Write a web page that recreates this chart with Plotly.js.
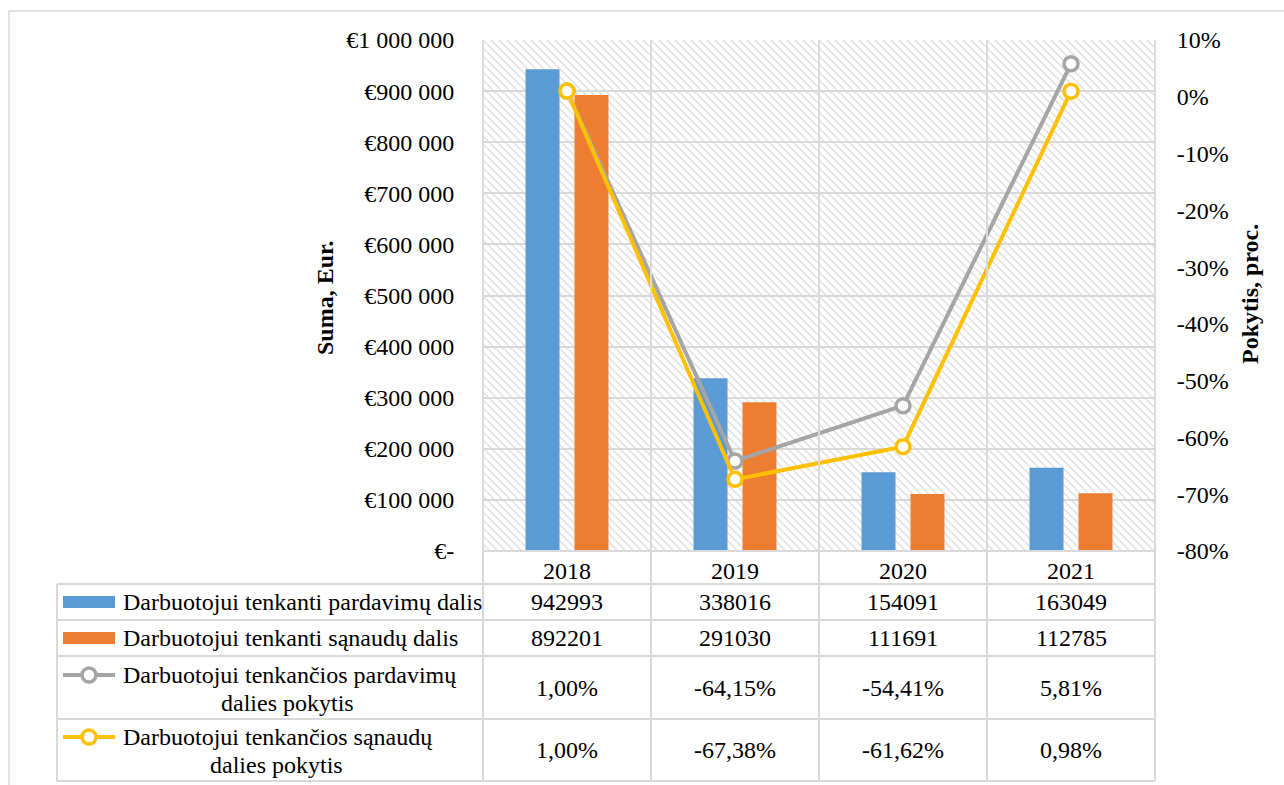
<!DOCTYPE html>
<html>
<head>
<meta charset="utf-8">
<script src="https://cdn.plot.ly/plotly-3.0.1.min.js"></script>
<style>
  html, body { margin: 0; padding: 0; background: #fff; }
  #chart { width: 1284px; height: 785px; }
</style>
</head>
<body>
<div id="chart"></div>
<script>
// Years shown on the category axis and as table columns
const years = ['2018', '2019', '2020', '2021'];

// Amounts per employee, EUR (left axis)
const salesShare = [942993, 338016, 154091, 163049];
const costShare = [892201, 291030, 111691, 112785];

// Year-on-year change, percent (right axis)
const salesChange = [1.00, -64.15, -54.41, 5.81];
const costChange = [1.00, -67.38, -61.62, 0.98];

// Series names
const seriesNames = [
  'Darbuotojui tenkanti pardavimų dalis',
  'Darbuotojui tenkanti sąnaudų dalis',
  'Darbuotojui tenkančios pardavimų dalies pokytis',
  'Darbuotojui tenkančios sąnaudų dalies pokytis'
];

// Axis ticks
const eurTickVals = [0, 100000, 200000, 300000, 400000, 500000, 600000, 700000, 800000, 900000, 1000000];
const eurTickText = ['€-', '€100 000', '€200 000', '€300 000', '€400 000', '€500 000', '€600 000', '€700 000', '€800 000', '€900 000', '€1 000 000'];
const pctTickVals = [-80, -70, -60, -50, -40, -30, -20, -10, 0, 10];
const pctTickText = ['-80%', '-70%', '-60%', '-50%', '-40%', '-30%', '-20%', '-10%', '0%', '10%'];

const BLUE = '#5B9BD5', ORANGE = '#ED7D31', GRAY = '#A5A5A5', GOLD = '#FFC000';
const GRID = '#D9D9D9';
const FONT = '"Liberation Serif", "Times New Roman", serif';

// Page geometry
const W = 1284, H = 785;
const M = { l: 483, r: 129, t: 40, b: 234 };
const PW = W - M.l - M.r, PH = H - M.t - M.b;
const px = x => (x - M.l) / PW;          // page pixel -> paper x
const py = y => (M.t + PH - y) / PH;     // page pixel -> paper y
const catX = i => (i + 0.5) / years.length; // category centre in paper x
const catEdge = i => i / years.length;     // category boundary in paper x

const fmtInt = v => String(v);
const fmtPct = v => v.toFixed(2).replace('.', ',') + '%';

// Hatched plot-area background
const hatchSvg =
  "<svg xmlns='http://www.w3.org/2000/svg' width='" + PW + "' height='" + PH + "'>" +
  "<defs><pattern id='h' width='8' height='8' patternUnits='userSpaceOnUse'>" +
  "<path d='M-2,-2 L10,10 M-2,6 L2,10 M6,-2 L10,2' stroke='#E1E1E1' stroke-width='1.5'/>" +
  "</pattern></defs>" +
  "<rect width='100%' height='100%' fill='#FFFFFF'/>" +
  "<rect width='100%' height='100%' fill='url(#h)'/></svg>";
const hatchUri = 'data:image/svg+xml;charset=utf-8,' + encodeURIComponent(hatchSvg);

const traces = [
  { type: 'bar', x: years, y: salesShare, name: seriesNames[0], marker: { color: BLUE }, hoverinfo: 'skip' },
  { type: 'bar', x: years, y: costShare, name: seriesNames[1], marker: { color: ORANGE }, hoverinfo: 'skip' },
  {
    type: 'scatter', mode: 'lines+markers', x: years, y: salesChange, yaxis: 'y2', name: seriesNames[2],
    line: { color: GRAY, width: 4 },
    marker: { symbol: 'circle', size: 14, color: '#FFFFFF', line: { color: GRAY, width: 3.5 } },
    hoverinfo: 'skip'
  },
  {
    type: 'scatter', mode: 'lines+markers', x: years, y: costChange, yaxis: 'y2', name: seriesNames[3],
    line: { color: GOLD, width: 4 },
    marker: { symbol: 'circle', size: 14, color: '#FFFFFF', line: { color: GOLD, width: 3.5 } },
    hoverinfo: 'skip'
  }
];

// Data table geometry (page pixels)
const tableLeft = 57;
const yearRowCenter = 571;
const rowLines = [584, 620, 656, 719, 781];
const rowCenters = [602, 638, 688, 750];
const tableBottom = rowLines[rowLines.length - 1];

const shapes = [];
const annotations = [];
const lineStyle = { color: GRID, width: 2 };

// Outer chart frame
shapes.push({ type: 'rect', xref: 'paper', yref: 'paper', x0: px(9), x1: px(W + 10), y0: py(H + 10), y1: py(11), line: { color: GRID, width: 1.5 }, fillcolor: 'rgba(0,0,0,0)', layer: 'below' });

// Category boundaries running through the plot and the table
for (let i = 0; i <= years.length; i++) {
  shapes.push({ type: 'line', xref: 'paper', yref: 'paper', x0: catEdge(i), x1: catEdge(i), y0: py(tableBottom), y1: 1, line: lineStyle, layer: 'above' });
}
// Axis line under the plot
shapes.push({ type: 'line', xref: 'paper', yref: 'paper', x0: 0, x1: 1, y0: 0, y1: 0, line: lineStyle });
// Table rows
rowLines.forEach(y => {
  shapes.push({ type: 'line', xref: 'paper', yref: 'paper', x0: px(tableLeft), x1: 1, y0: py(y), y1: py(y), line: lineStyle });
});
shapes.push({ type: 'line', xref: 'paper', yref: 'paper', x0: px(tableLeft), x1: px(tableLeft), y0: py(rowLines[0]), y1: py(tableBottom), line: lineStyle });

const cellFont = { family: FONT, size: 24, color: '#000000' };

// Category labels (year row of the table)
years.forEach((yr, c) => {
  annotations.push({ xref: 'paper', yref: 'paper', x: catX(c), y: py(yearRowCenter), text: yr, showarrow: false, font: cellFont, xanchor: 'center', yanchor: 'middle' });
});

// Table cell values
const tableRows = [
  salesShare.map(fmtInt),
  costShare.map(fmtInt),
  salesChange.map(fmtPct),
  costChange.map(fmtPct)
];
tableRows.forEach((row, r) => {
  row.forEach((txt, c) => {
    annotations.push({ xref: 'paper', yref: 'paper', x: catX(c), y: py(rowCenters[r]), text: txt, showarrow: false, font: cellFont, xanchor: 'center', yanchor: 'middle' });
  });
});

// Legend keys and row labels
const keyX0 = 63, keyX1 = 115;
// bar keys
[[BLUE, 602], [ORANGE, 638]].forEach(([col, y]) => {
  shapes.push({ type: 'rect', xref: 'paper', yref: 'paper', x0: px(keyX0), x1: px(keyX1), y0: py(y + 6), y1: py(y - 6), fillcolor: col, line: { width: 0 } });
});
// line keys
[[GRAY, 675], [GOLD, 737]].forEach(([col, y]) => {
  shapes.push({ type: 'line', xref: 'paper', yref: 'paper', x0: px(keyX0), x1: px(keyX1), y0: py(y), y1: py(y), line: { color: col, width: 4 } });
  shapes.push({ type: 'circle', xref: 'paper', yref: 'paper', x0: px(89 - 7), x1: px(89 + 7), y0: py(y + 7), y1: py(y - 7), fillcolor: '#FFFFFF', line: { color: col, width: 3.5 } });
});
const labelFont = { family: FONT, size: 24, color: '#000000' };
annotations.push({ xref: 'paper', yref: 'paper', x: px(121), y: py(602), text: seriesNames[0], showarrow: false, font: labelFont, xanchor: 'left', yanchor: 'middle' });
annotations.push({ xref: 'paper', yref: 'paper', x: px(121), y: py(638), text: seriesNames[1], showarrow: false, font: labelFont, xanchor: 'left', yanchor: 'middle' });
annotations.push({ xref: 'paper', yref: 'paper', x: px(121), y: py(675), text: 'Darbuotojui tenkančios pardavimų', showarrow: false, font: labelFont, xanchor: 'left', yanchor: 'middle' });
annotations.push({ xref: 'paper', yref: 'paper', x: px(287), y: py(703), text: 'dalies pokytis', showarrow: false, font: labelFont, xanchor: 'center', yanchor: 'middle' });
annotations.push({ xref: 'paper', yref: 'paper', x: px(121), y: py(737), text: 'Darbuotojui tenkančios sąnaudų', showarrow: false, font: labelFont, xanchor: 'left', yanchor: 'middle' });
annotations.push({ xref: 'paper', yref: 'paper', x: px(276), y: py(765), text: 'dalies pokytis', showarrow: false, font: labelFont, xanchor: 'center', yanchor: 'middle' });

// Axis titles
const titleFont = { family: FONT, size: 24, color: '#000000', weight: 'bold' };
annotations.push({ xref: 'paper', yref: 'paper', x: px(325), y: py(298), text: '<b>Suma, Eur.</b>', textangle: -90, showarrow: false, font: titleFont, xanchor: 'center', yanchor: 'middle' });
annotations.push({ xref: 'paper', yref: 'paper', x: px(1250), y: py(294), text: '<b>Pokytis, proc.</b>', textangle: -90, showarrow: false, font: titleFont, xanchor: 'center', yanchor: 'middle' });

const layout = {
  width: W, height: H,
  margin: M,
  paper_bgcolor: '#FFFFFF',
  plot_bgcolor: '#FFFFFF',
  showlegend: false,
  barmode: 'group',
  bargap: 0.417,
  bargroupgap: 0.306,
  font: { family: FONT, size: 24, color: '#000000' },
  xaxis: {
    type: 'category', range: [-0.5, 3.5],
    showgrid: false, zeroline: false, showline: false,
    showticklabels: false, ticks: '',
    fixedrange: true
  },
  yaxis: {
    range: [0, 1000000],
    tickvals: eurTickVals, ticktext: eurTickText,
    showgrid: true, gridcolor: GRID, gridwidth: 2,
    zeroline: false, showline: false,
    ticks: 'outside', ticklen: 23, tickcolor: 'rgba(0,0,0,0)',
    tickfont: { family: FONT, size: 24, color: '#000000' },
    fixedrange: true
  },
  yaxis2: {
    overlaying: 'y', side: 'right',
    range: [-80, 10],
    tickvals: pctTickVals, ticktext: pctTickText,
    showgrid: false, zeroline: false, showline: false,
    ticks: 'outside', ticklen: 16, tickcolor: 'rgba(0,0,0,0)',
    tickfont: { family: FONT, size: 24, color: '#000000' },
    fixedrange: true
  },
  images: [{
    source: hatchUri, xref: 'paper', yref: 'paper',
    x: 0, y: 1, sizex: 1, sizey: 1, xanchor: 'left', yanchor: 'top',
    sizing: 'stretch', layer: 'below'
  }],
  shapes: shapes,
  annotations: annotations
};

Plotly.newPlot('chart', traces, layout, { displayModeBar: false, staticPlot: true });
</script>
</body>
</html>
